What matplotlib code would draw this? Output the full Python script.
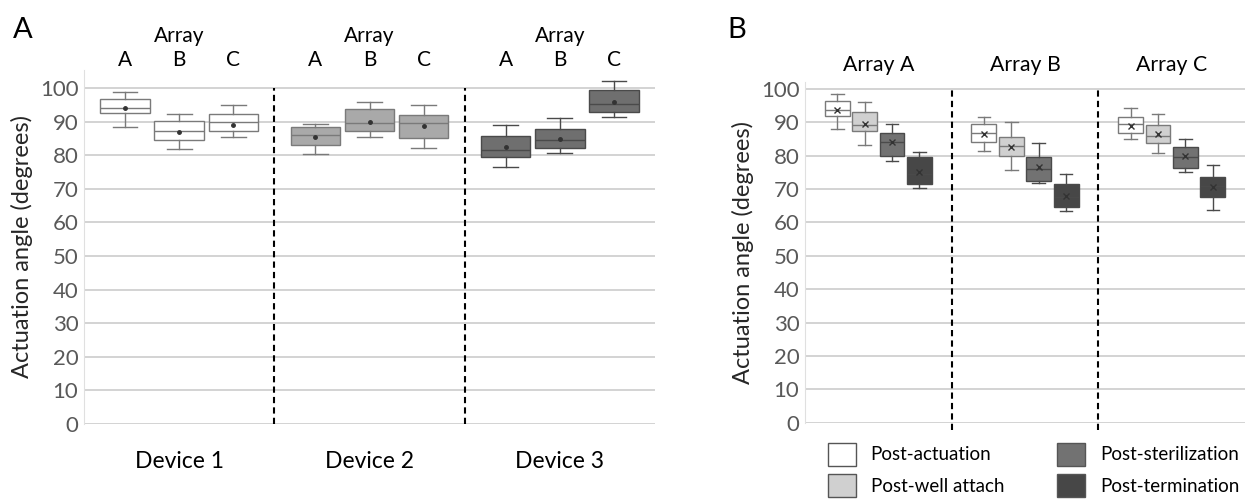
import matplotlib
matplotlib.use("Agg")
import matplotlib.pyplot as plt
from matplotlib.patches import Patch

plt.rcParams['font.family'] = ['Lato', 'DejaVu Sans']

### DATA
# Panel A: three devices, arrays A, B, C
devices = ["Device 1", "Device 2", "Device 3"]
arrays = ["A", "B", "C"]
dev_q1 = [[92.5, 84.5, 87.1], [83.2, 87.1, 85.2], [79.6, 82.3, 93.0]]
dev_med = [[94.1, 87.3, 89.8], [85.9, 89.7, 89.5], [81.5, 84.7, 95.4]]
dev_q3 = [[96.8, 90.2, 92.2], [88.5, 93.7, 92.0], [85.7, 87.7, 99.4]]
dev_lo = [[88.3, 82.0, 85.5], [80.4, 85.3, 82.3], [76.6, 80.7, 91.5]]
dev_hi = [[98.9, 92.2, 94.9], [89.2, 95.9, 95.1], [89.0, 91.0, 102.2]]
dev_mean = [[94.0, 86.8, 89.0], [85.5, 89.8, 88.7], [82.5, 85.0, 96.0]]
dev_colors = ["#ffffff", "#a9a9a9", "#6f6f6f"]

# Panel B: three arrays, four stages
groups = ["Array A", "Array B", "Array C"]
stages = ["Post-actuation", "Post-well attach", "Post-sterilization", "Post-termination"]
stage_colors = ["#ffffff", "#d0d0d0", "#727272", "#474747"]
st_q1 = [[91.9, 87.4, 80.0, 71.5], [84.1, 79.9, 72.3, 64.5], [86.7, 83.7, 76.3, 67.5]]
st_med = [[93.6, 89.2, 84.2, 74.4], [86.9, 83.0, 75.9, 67.7], [89.5, 86.0, 79.5, 70.9]]
st_q3 = [[96.4, 93.1, 86.7, 79.6], [89.6, 85.6, 79.6, 71.4], [91.5, 89.2, 82.5, 73.6]]
st_lo = [[87.9, 83.1, 78.4, 70.2], [81.5, 75.6, 71.9, 63.5], [85.0, 80.8, 75.0, 63.7]]
st_hi = [[98.4, 96.2, 89.6, 81.1], [91.7, 90.1, 83.9, 74.4], [94.4, 92.5, 85.0, 77.3]]
st_mean = [[93.8, 89.5, 84.0, 75.0], [86.5, 82.5, 76.5, 67.8], [89.0, 86.5, 80.0, 70.5]]

yticks = list(range(0, 101, 10))
grid_c = "#c8c8c8"
tick_c = "#595959"


def style_axis(ax, ytop):
    ax.set_ylim(0, ytop)
    ax.set_yticks(yticks)
    for v in yticks:
        ax.axhline(v, color=grid_c, lw=1.1, zorder=0)
    for s in ["top", "right", "bottom"]:
        ax.spines[s].set_visible(False)
    ax.spines["left"].set_color("#e0e0e0")
    ax.set_xticks([])
    ax.tick_params(axis="y", length=0, pad=4, labelsize=16, labelcolor=tick_c)
    ax.set_ylabel("Actuation angle (degrees)", fontsize=17, color="#262626", labelpad=5)


def draw_box(ax, pos, width, q1, med, q3, lo, hi, mean, face, mean_marker, msize):
    stats = [dict(med=med, q1=q1, q3=q3, whislo=lo, whishi=hi, mean=mean, fliers=[])]
    edge = "#7a7a7a" if face in ("#ffffff", "#d0d0d0", "#a9a9a9") else "#4a4a4a"
    ax.bxp(stats, positions=[pos], widths=width, patch_artist=True, showmeans=True,
           manage_ticks=False,
           boxprops=dict(facecolor=face, edgecolor=edge, lw=1.0),
           medianprops=dict(color=edge, lw=1.0),
           whiskerprops=dict(color=edge, lw=1.0),
           capprops=dict(color=edge, lw=1.0),
           capwidths=width * 0.5,
           meanprops=dict(marker=mean_marker, markersize=msize, markeredgecolor="#333333",
                          markerfacecolor="#333333", markeredgewidth=1.0),
           zorder=3)


fig = plt.figure(figsize=(12.5, 5.01), dpi=100)

### PANEL A
axA = fig.add_axes([0.0672, 0.1537, 0.4568, 0.7066])
style_axis(axA, 105.4)
offA = [-0.285, 0.0, 0.285]
for g in range(3):
    for k in range(3):
        draw_box(axA, g + offA[k], 0.26, dev_q1[g][k], dev_med[g][k], dev_q3[g][k],
                 dev_lo[g][k], dev_hi[g][k], dev_mean[g][k], dev_colors[g], "o", 2.5)
        axA.text(g + offA[k], 105.5, arrays[k], ha="center", va="bottom", fontsize=15)
    axA.text(g, 112.5, "Array", ha="center", va="bottom", fontsize=15)
    axA.text(g, -8.0, devices[g], ha="center", va="top", fontsize=16.5)
for xv in [0.5, 1.5]:
    axA.plot([xv, xv], [0, 100], color="black", lw=1.5, ls=(0, (3, 2)), zorder=2)
axA.set_xlim(-0.5, 2.5)
fig.text(0.01, 0.94, "A", fontsize=21, va="center")

### PANEL B
axB = fig.add_axes([0.644, 0.156, 0.352, 0.68])
style_axis(axB, 102.0)
offB = [-0.28, -0.093, 0.093, 0.28]
for g in range(3):
    for k in range(4):
        draw_box(axB, g + offB[k], 0.17, st_q1[g][k], st_med[g][k], st_q3[g][k],
                 st_lo[g][k], st_hi[g][k], st_mean[g][k], stage_colors[k], "x", 5)
    axB.text(g, 104.0, groups[g], ha="center", va="bottom", fontsize=15.3)
for xv in [0.5, 1.5]:
    axB.plot([xv, xv], [-2, 100], color="black", lw=1.5, ls=(0, (3, 2)), zorder=2,
             clip_on=False)
axB.set_xlim(-0.5, 2.5)
fig.text(0.582, 0.94, "B", fontsize=21, va="center")

handles = [Patch(facecolor=stage_colors[i], edgecolor="#555555", lw=1.0, label=stages[i])
           for i in range(4)]
fig.legend(handles=handles, ncol=2, loc="upper left", bbox_to_anchor=(0.6545, 0.135),
           frameon=False, fontsize=13.5, handlelength=1.5, handleheight=1.5,
           handletextpad=0.8, columnspacing=2.8, labelspacing=0.45, borderpad=0.0)

fig.savefig("out.png", dpi=100)
